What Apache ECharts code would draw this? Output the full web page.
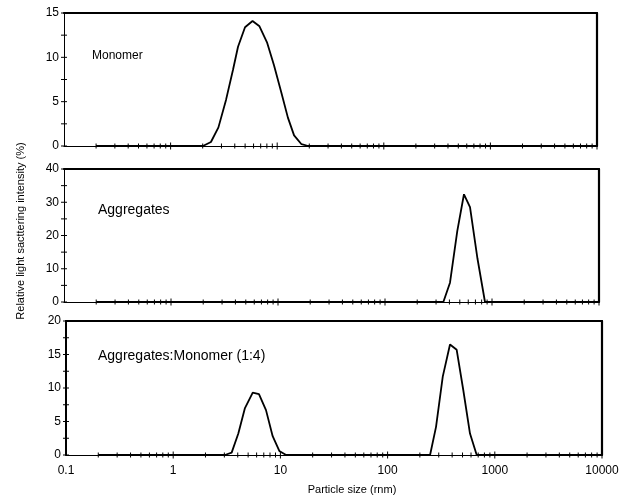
<!DOCTYPE html>
<html>
<head>
<meta charset="utf-8">
<script src="https://cdn.jsdelivr.net/npm/echarts@6/dist/echarts.min.js"></script>
<style>
html,body{margin:0;padding:0;background:#fff;}
#c{width:627px;height:499px;}
</style>
</head>
<body>
<div id="c"></div>
<script>
// ---- data ----
const xTickLabels = ['0.1', '1', '10', '100', '1000', '10000'];

// Panel 1: Monomer
const monomerSize  = [0.2, 2.01, 2.39, 2.81, 3.31, 3.85, 4.29, 4.99, 5.87, 6.82, 8.02, 9.33, 10.9, 12.6, 14.4, 16.9, 19.5, 10000];
const monomerValue = [0,   0,    0.45, 2.1,  5.2,  8.6,  11.2, 13.4, 14.1, 13.5, 11.7, 9.1,  6.1,  3.2,  1.2,  0.2,  0,    0];

// Panel 2: Aggregates
const aggSize  = [0.2, 351, 405, 474, 547, 623, 732, 860, 10000];
const aggValue = [0,   0,   5.8, 21.4, 32.4, 28.5, 13, 0, 0];

// Panel 3: Aggregates:Monomer (1:4)
const mixSize  = [0.2, 3.04, 3.51, 4.05, 4.67, 5.52, 6.31, 7.34, 8.47, 9.77, 11.3, 249, 283, 327, 382, 441, 508, 587, 678, 10000];
const mixValue = [0,   0,    0.35, 3.2,  7.0,  9.3,  9.1,  6.7,  2.8,  0.6,  0,    0,   4.2, 11.7, 16.5, 15.7, 9.7, 3.2, 0,   0];

const yTicksTop = [0, 2.5, 5, 7.5, 10, 12.5, 15];
const yTicksMid = [0, 5, 10, 15, 20, 25, 30, 35, 40];
const yTicksBot = [0, 2.5, 5, 7.5, 10, 12.5, 15, 17.5, 20];
const yLabelStep = [5, 10, 5];
const yMax = [15, 40, 20];

const panelLabels = ['Monomer', 'Aggregates', 'Aggregates:Monomer (1:4)'];
const yTitle = 'Relative light sacttering intensity (%)';
const xTitle = 'Particle size (rnm)';

// ---- layout ----
const grids = [
  {left: 64, right: 30, top: 13, height: 133, outerBoundsMode: 'none'},
  {left: 64, right: 28, top: 169, height: 133, outerBoundsMode: 'none'},
  {left: 66, right: 25, top: 321, height: 134, outerBoundsMode: 'none'}
];

function xLabel(v) {
  const idx = Math.round(Math.log10(v)) + 1;
  return xTickLabels[idx] !== undefined ? xTickLabels[idx] : '';
}

// tick positions on x (log): minor 2..9 per decade, major at decades
function xTickData() {
  const out = [];
  for (let d = -1; d <= 3; d++) {
    const base = Math.pow(10, d);
    for (let k = 2; k <= 9; k++) out.push([+(k * base).toPrecision(6), 0, 0]);
    out.push([+(10 * base).toPrecision(6), 0, 1]);
  }
  return out;
}

function renderTick(params, api) {
  const kind = api.value(2);
  const p = api.coord([api.value(0), api.value(1)]);
  let shape;
  if (kind === 2) {
    shape = {x1: p[0] - 3, y1: p[1], x2: p[0] + 3, y2: p[1]};
  } else {
    const h = kind === 1 ? 3.5 : 2.5;
    shape = {x1: p[0], y1: p[1] - h, x2: p[0], y2: p[1] + h};
  }
  return {type: 'line', shape: shape, style: {stroke: '#000', lineWidth: 1}};
}

const xAxes = [], yAxes = [], series = [];
const yTickSets = [yTicksTop, yTicksMid, yTicksBot];
const lineData = [
  monomerSize.map((s, i) => [s, monomerValue[i]]),
  aggSize.map((s, i) => [s, aggValue[i]]),
  mixSize.map((s, i) => [s, mixValue[i]])
];

for (let g = 0; g < 3; g++) {
  const isBottom = g === 2;
  // bottom x axis (log)
  xAxes.push({
    type: 'log', logBase: 10, gridIndex: g, min: 0.1, max: 10000, splitNumber: 5,
    position: 'bottom',
    axisLine: {show: true, lineStyle: {color: '#000', width: 1.2}},
    axisTick: {show: false}, minorTick: {show: false},
    splitLine: {show: false}, minorSplitLine: {show: false},
    axisLabel: {show: isBottom, formatter: xLabel, color: '#000', fontSize: 12,
      fontFamily: 'Liberation Sans', margin: 10, showMinLabel: true, showMaxLabel: true}
  });
  // top border
  xAxes.push({
    type: 'value', gridIndex: g, min: 0, max: 1, position: 'top',
    axisLine: {show: true, onZero: false, lineStyle: {color: '#000', width: 2.2}},
    axisTick: {show: false}, axisLabel: {show: false}, splitLine: {show: false}
  });
  // left y axis
  yAxes.push({
    type: 'value', gridIndex: g, min: 0, max: yMax[g], interval: yLabelStep[g],
    position: 'left',
    axisLine: {show: true, onZero: false, lineStyle: {color: '#000', width: isBottom ? 2 : 1}},
    axisTick: {show: false}, splitLine: {show: false},
    axisLabel: {color: '#000', fontSize: 12, fontFamily: 'Liberation Sans', margin: 5}
  });
  // right border
  yAxes.push({
    type: 'value', gridIndex: g, min: 0, max: 1, position: 'right',
    axisLine: {show: true, onZero: false, lineStyle: {color: '#000', width: 2.2}},
    axisTick: {show: false}, axisLabel: {show: false}, splitLine: {show: false}
  });

  series.push({
    type: 'line', xAxisIndex: 2 * g, yAxisIndex: 2 * g,
    data: lineData[g], showSymbol: false, symbol: 'none', smooth: false,
    lineStyle: {color: '#000', width: 1.8}, z: 3
  });

  const tickData = xTickData().concat(yTickSets[g].map(v => [0.1, v, 2]));
  series.push({
    type: 'custom', xAxisIndex: 2 * g, yAxisIndex: 2 * g,
    data: tickData, renderItem: renderTick, clip: false, silent: true, z: 4
  });
}

const chart = echarts.init(document.getElementById('c'), null, {renderer: 'canvas'});
chart.setOption({
  animation: false,
  backgroundColor: '#fff',
  grid: grids,
  xAxis: xAxes,
  yAxis: yAxes,
  series: series,
  graphic: [
    {type: 'text', left: 92, top: 50, style: {text: panelLabels[0], font: '12px "Liberation Sans"', fill: '#000'}},
    {type: 'text', left: 98, top: 203, style: {text: panelLabels[1], font: '14px "Liberation Sans"', fill: '#000'}},
    {type: 'text', left: 98, top: 349, style: {text: panelLabels[2], font: '14px "Liberation Sans"', fill: '#000'}},
    {type: 'text', x: 21, y: 231, rotation: Math.PI / 2,
      style: {text: yTitle, font: '11px "Liberation Sans"', fill: '#000', textAlign: 'center', textVerticalAlign: 'middle'}},
    {type: 'text', x: 352, y: 490,
      style: {text: xTitle, font: '11px "Liberation Sans"', fill: '#000', textAlign: 'center', textVerticalAlign: 'middle'}}
  ]
});
</script>
</body>
</html>
